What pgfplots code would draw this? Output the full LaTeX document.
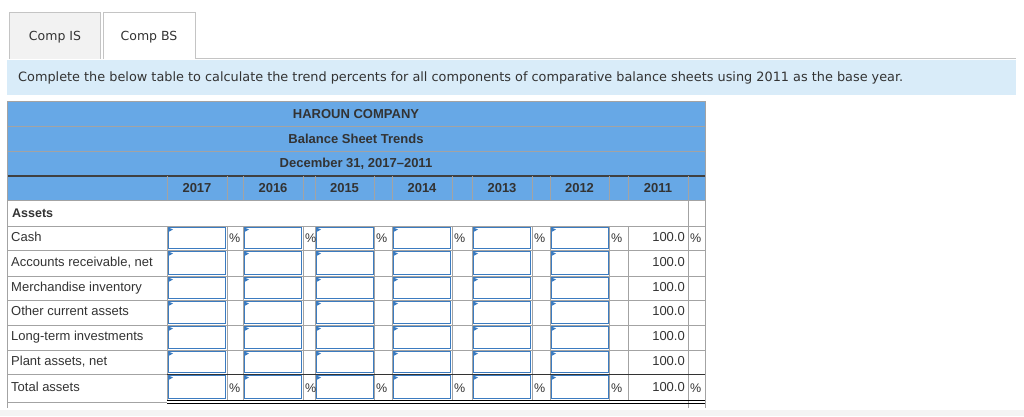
\documentclass[border=0pt]{standalone}
\usepackage{pgfplots}
\pgfplotsset{compat=1.18}
\usepackage{pgfplotstable}
\usepackage{fontspec}
\setmainfont{Liberation Sans}
\newfontfamily\verd{DejaVu Sans}

\definecolor{txt}{HTML}{333333}
\definecolor{headblue}{HTML}{67A8E6}
\definecolor{infoblue}{HTML}{D9ECF9}
\definecolor{tabgray}{HTML}{F2F2F2}
\definecolor{tabline}{HTML}{C4C4C4}
\definecolor{grid}{HTML}{A3A3A3}
\definecolor{boxblue}{HTML}{3B7BC0}
\definecolor{strip}{HTML}{F4F4F4}

% rows of the asset section: label, vertical centre (px from top), 2011 base
\pgfplotstableread[col sep=semicolon]{
item;y;base
Cash;238;100.0
Accounts receivable, net;263;100.0
Merchandise inventory;288;100.0
Other current assets;312.5;100.0
Long-term investments;337.5;100.0
Plant assets, net;362;100.0
Total assets;388;100.0
}\assets

% input box: left x, top y, height
\newcommand\inbox[3]{%
    \fill[white] (#1+1,#2+1) rectangle (#1+59,#2+#3-1);
    \draw[boxblue, line width=1.3pt] (#1+1.5,#2+1.5) rectangle (#1+58.5,#2+#3-1.5);
    \fill[boxblue] (#1+1.5,#2+1.5) -- (#1+6,#2+3.5) -- (#1+1.5,#2+6) -- cycle;
}
\newcommand\pct[2]{%
    \node[anchor=west, inner sep=0pt, font=\fontsize{12.5}{15}\selectfont, text=txt] at (#1,#2) {\%};
}
\newcommand\hd[3]{%
    \node[font=\bfseries\fontsize{13}{15}\selectfont, text=txt] at (#1,#2) {#3};
}

\begin{document}
\begin{tikzpicture}
\begin{axis}[
    width=1024pt, height=416pt, scale only axis,
    xmin=0, xmax=1024, ymin=0, ymax=416, y dir=reverse,
    hide axis, clip=false,
]
% background, tabs, instruction bar
\fill[white] (0,0) rectangle (1024,416);
\fill[strip] (0,410) rectangle (1024,416);
\fill[infoblue] (7,59.5) rectangle (1016,95);
\draw[tabline] (195,58.5) -- (1016,58.5);
\filldraw[fill=tabgray, draw=tabline] (9,59) -- (9,12.5) -- (100,12.5) -- (100,59);
\fill[white] (103,12.5) rectangle (195,59.5);
\draw[tabline] (103,59) -- (103,12.5) -- (195,12.5) -- (195,59);
\node[font=\verd\fontsize{12.5}{15}\selectfont, text=txt] at (55,37) {Comp IS};
\node[font=\verd\fontsize{12.5}{15}\selectfont, text=txt] at (149,37) {Comp BS};
\node[anchor=west, inner sep=0pt, font=\verd\fontsize{12.85}{15}\selectfont, text=txt]
    at (18,78) {Complete the below table to calculate the trend percents for all components of comparative balance sheets using 2011 as the base year.};

% table header
\fill[headblue] (7,101) rectangle (705,200);
\draw[grid] (7,126) -- (705,126);
\draw[grid] (7,151) -- (705,151);
\draw[black!75, line width=1.2pt] (7,176) -- (705,176);
\pgfplotsinvokeforeach{167,227,243,303,315,374,392,452,472,532,550,609,628,688}{
    \draw[grid] (#1,176) -- (#1,200);
}
\draw[grid] (7,200) -- (705,200);
\draw[grid] (7,101) -- (705,101);
\draw[grid] (705,101) -- (705,408);
\draw[grid] (7,101) -- (7,408);
\draw[grid] (688,200) -- (688,408);

% body grid
\pgfplotsinvokeforeach{226,250,276,300,325,350}{
    \draw[grid] (7,#1) -- (705,#1);
}
\pgfplotsinvokeforeach{167,227,243,303,315,374,392,452,472,532,550,609,628}{
    \draw[grid] (#1,226) -- (#1,401);
}
\draw[black!80, line width=1pt] (167,374) -- (705,374);
\draw[grid] (7,374) -- (167,374);
\draw[grid] (7,402) -- (167,402);
\draw[black] (167,400.5) -- (705,400.5);
\draw[black] (167,403.5) -- (705,403.5);

% input boxes
\pgfplotsinvokeforeach{167,243,315,392,472,550}{
    \inbox{#1}{226}{24}
    \inbox{#1}{250}{26}
    \inbox{#1}{276}{24}
    \inbox{#1}{300}{25}
    \inbox{#1}{325}{25}
    \inbox{#1}{350}{24}
    \inbox{#1}{374}{26}
}

% header text
\hd{356}{114}{HAROUN COMPANY}
\hd{356}{139}{Balance Sheet Trends}
\hd{356}{164}{December 31, 2017--2011}
\hd{197}{188.5}{2017}
\hd{273}{188.5}{2016}
\hd{344.5}{188.5}{2015}
\hd{422}{188.5}{2014}
\hd{502}{188.5}{2013}
\hd{579.5}{188.5}{2012}
\hd{658}{188.5}{2011}
\node[anchor=west, inner sep=0pt, font=\bfseries\fontsize{12.5}{15}\selectfont, text=txt] at (12,213) {Assets};

% percent signs on first and total rows
\pgfplotsinvokeforeach{229,305,376,454,534,611,690}{
    \pct{#1}{238}
    \pct{#1}{388}
}

% row labels and 2011 base values
\addplot[draw=none, mark=none, nodes near coords, point meta=explicit symbolic,
    nodes near coords style={anchor=west, inner sep=0pt, text height=9pt, text depth=2.5pt,
        font=\fontsize{13}{15}\selectfont, text=txt}]
    table[x expr=11, y=y, meta=item] {\assets};
\addplot[draw=none, mark=none, nodes near coords, point meta=explicit symbolic,
    nodes near coords style={anchor=east, inner sep=0pt, text height=9pt, text depth=2.5pt,
        font=\fontsize{13}{15}\selectfont, text=txt}]
    table[x expr=685, y=y, meta=base] {\assets};
\end{axis}
\end{tikzpicture}
\end{document}
